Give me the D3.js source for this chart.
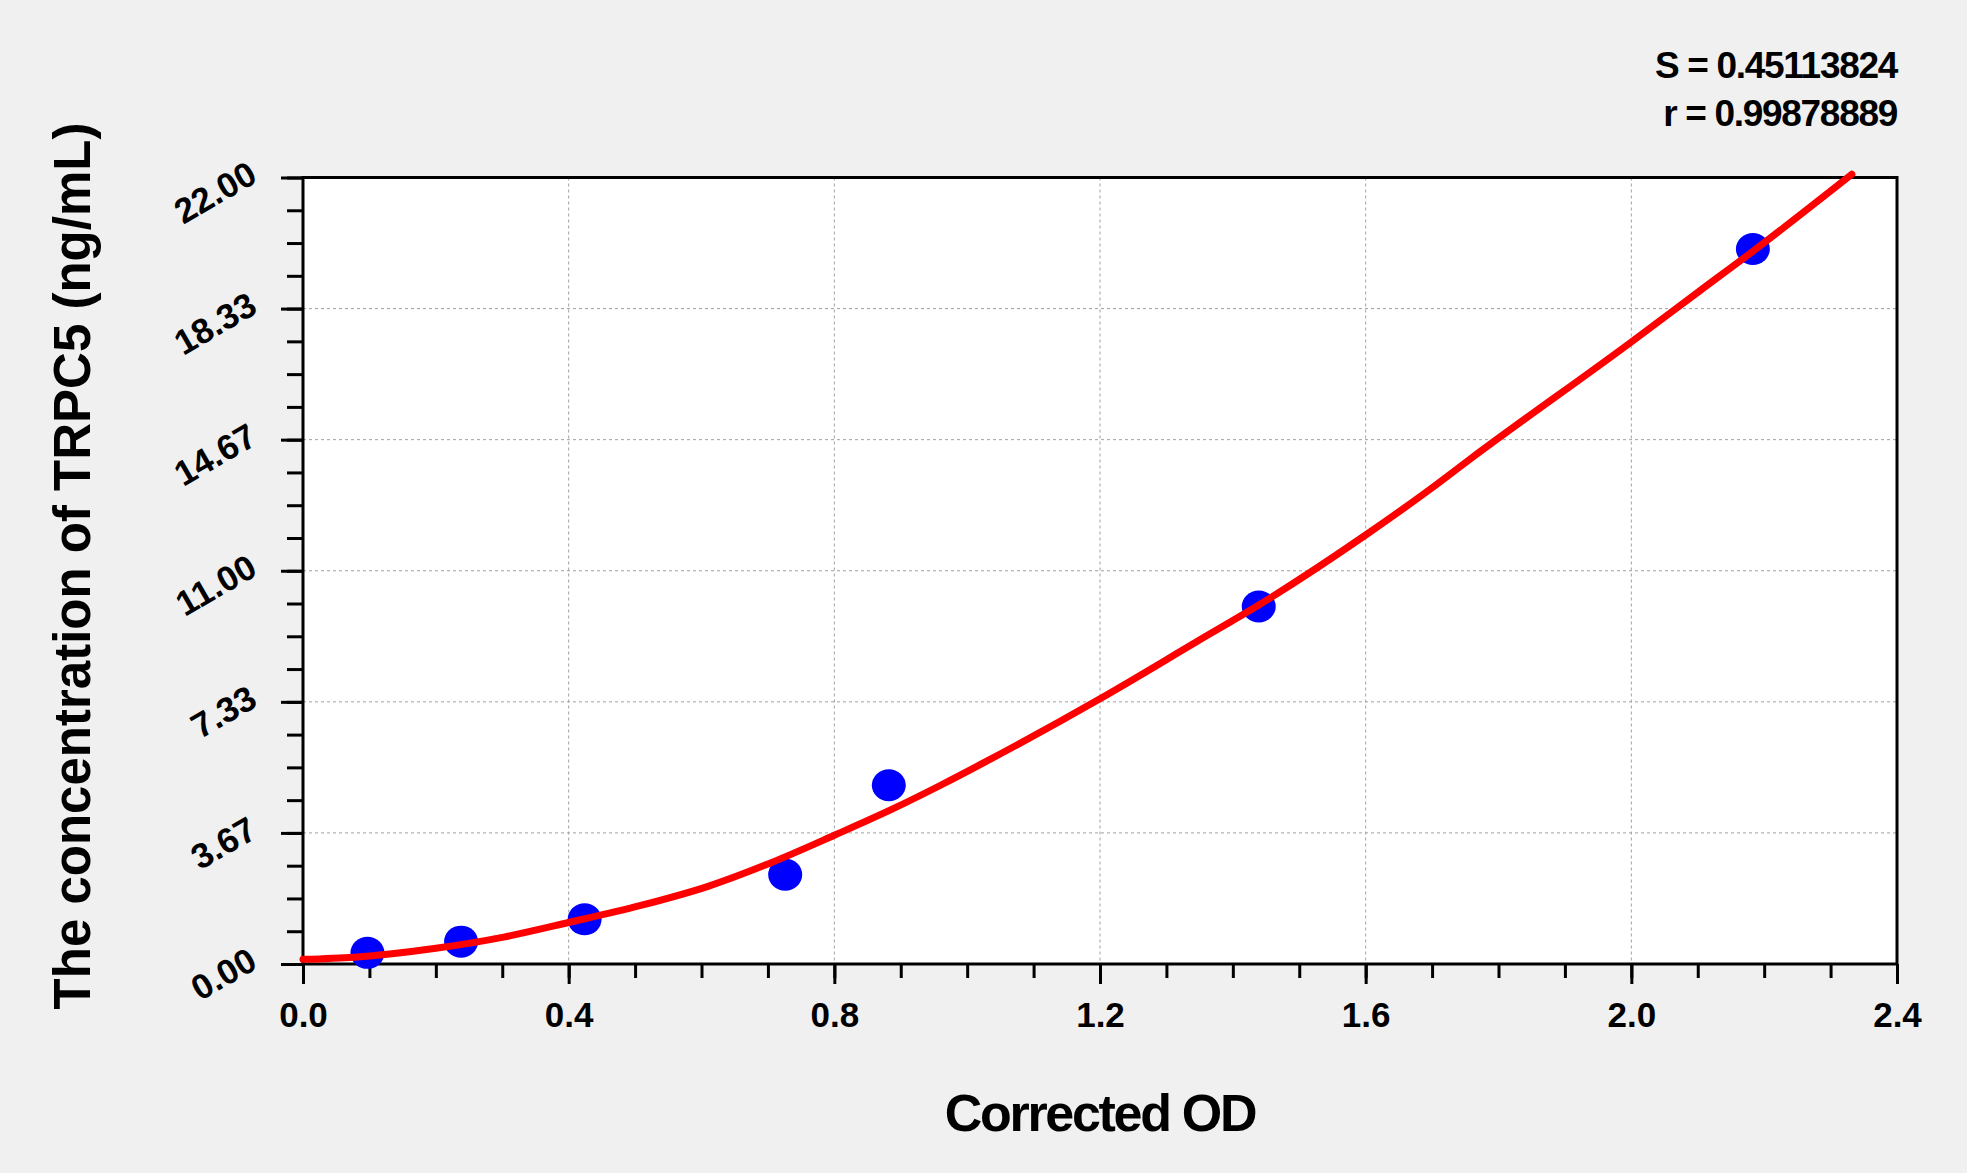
<!DOCTYPE html>
<html>
<head>
<meta charset="utf-8">
<script src="https://cdn.jsdelivr.net/npm/d3@7/dist/d3.min.js"></script>
<style>
  body { margin: 0; background: #f0f0f0; }
  svg { display: block; }
  text { font-family: "Liberation Sans", Arial, sans-serif; font-weight: bold; fill: #000; }
</style>
</head>
<body>
<svg id="chart"></svg>
<script>
// standard points (corrected OD vs concentration)
const odValues = [0.097, 0.238, 0.424, 0.726, 0.882, 1.439, 2.183];
const concValues = [0.312, 0.625, 1.25, 2.5, 5, 10, 20];

// fitted curve
const curveOd = [0, 0.077, 0.2, 0.304, 0.4, 0.507, 0.611, 0.703, 0.8, 0.887, 0.96, 1.028,
  1.2, 1.346, 1.439, 1.6, 1.697, 1.757, 2.0, 2.103, 2.184, 2.332];
const curveConc = [0.13, 0.19, 0.44, 0.76, 1.16, 1.63, 2.18, 2.82, 3.6, 4.33, 5.0, 5.66,
  7.42, 9.02, 10.04, 12.0, 13.28, 14.12, 17.4, 18.83, 19.95, 22.09];

const xTickValues = [0, 0.4, 0.8, 1.2, 1.6, 2.0, 2.4];
const xTickLabels = ['0.0', '0.4', '0.8', '1.2', '1.6', '2.0', '2.4'];
const yTickValues = [0, 3.667, 7.333, 11, 14.667, 18.333, 22];
const yTickLabels = ['0.00', '3.67', '7.33', '11.00', '14.67', '18.33', '22.00'];

const statLines = ['S = 0.45113824', 'r = 0.99878889'];
const xTitle = 'Corrected OD';
const yTitle = 'The concentration of TRPC5 (ng/mL)';

const width = 1967, height = 1173;
const plot = { left: 303, right: 1897, top: 177.5, bottom: 964 };

const svg = d3.select('#chart').attr('width', width).attr('height', height);

const x = d3.scaleLinear().domain([0, 2.4]).range([plot.left, plot.right]);
const y = d3.scaleLinear().domain([0, 22]).range([plot.bottom, plot.top]);

// plot background
svg.append('rect')
  .attr('x', plot.left).attr('y', plot.top)
  .attr('width', plot.right - plot.left).attr('height', plot.bottom - plot.top)
  .attr('fill', '#fff');

// grid lines
const grid = svg.append('g').attr('stroke', '#a0a0a0').attr('stroke-width', 1).attr('stroke-dasharray', '3,3');
grid.selectAll('line.gx')
  .data(xTickValues.slice(1, -1))
  .join('line')
  .attr('class', 'gx')
  .attr('x1', d => x(d)).attr('x2', d => x(d))
  .attr('y1', plot.top).attr('y2', plot.bottom);
grid.selectAll('line.gy')
  .data(yTickValues.slice(1, -1))
  .join('line')
  .attr('class', 'gy')
  .attr('x1', plot.left).attr('x2', plot.right)
  .attr('y1', d => y(d)).attr('y2', d => y(d));

// minor ticks
const xMinor = svg.append('g')
  .attr('transform', `translate(0,${plot.bottom})`)
  .call(d3.axisBottom(x).tickValues(d3.range(0, 25).map(i => i / 10)).tickSize(14).tickFormat(''));
const yMinor = svg.append('g')
  .attr('transform', `translate(${plot.left},0)`)
  .call(d3.axisLeft(y).tickValues(d3.range(0, 25).map(i => i * 22 / 24)).tickSize(16).tickFormat(''));

// major ticks
const xAxis = svg.append('g')
  .attr('transform', `translate(0,${plot.bottom})`)
  .call(d3.axisBottom(x).tickValues(xTickValues).tickSize(20).tickPadding(28)
    .tickFormat((d, i) => xTickLabels[i]));
const yAxis = svg.append('g')
  .attr('transform', `translate(${plot.left},0)`)
  .call(d3.axisLeft(y).tickValues(yTickValues).tickSize(22)
    .tickFormat((d, i) => yTickLabels[i]));

[xMinor, yMinor, xAxis, yAxis].forEach(g => {
  g.select('.domain').remove();
  g.selectAll('line').attr('stroke', '#000').attr('stroke-width', 3);
});

xAxis.selectAll('text')
  .attr('font-size', 35)
  .attr('dy', null)
  .attr('y', 63)
  .attr('fill', '#000');

yAxis.selectAll('text')
  .attr('font-size', 35)
  .attr('fill', '#000')
  .attr('x', null).attr('dy', null)
  .attr('text-anchor', 'end')
  .attr('transform', 'translate(-44,3) rotate(-30)');

// frame
svg.append('rect')
  .attr('x', plot.left).attr('y', plot.top)
  .attr('width', plot.right - plot.left).attr('height', plot.bottom - plot.top)
  .attr('fill', 'none').attr('stroke', '#000').attr('stroke-width', 3);

// points
svg.append('g').selectAll('ellipse')
  .data(odValues)
  .join('ellipse')
  .attr('cx', d => x(d))
  .attr('cy', (d, i) => y(concValues[i]))
  .attr('rx', 17).attr('ry', 16)
  .attr('fill', '#0000ff');

// fitted curve
const line = d3.line()
  .x(d => x(d))
  .y((d, i) => y(curveConc[i]))
  .curve(d3.curveMonotoneX);
svg.append('path')
  .attr('d', line(curveOd))
  .attr('fill', 'none')
  .attr('stroke', '#ff0000')
  .attr('stroke-width', 7)
  .attr('stroke-linecap', 'round')
  .attr('stroke-linejoin', 'round');

// statistics
svg.selectAll('text.stat')
  .data(statLines)
  .join('text')
  .attr('class', 'stat')
  .attr('x', plot.right)
  .attr('y', (d, i) => 78 + i * 48)
  .attr('text-anchor', 'end')
  .attr('font-size', 37)
  .attr('letter-spacing', '-1.3px')
  .text(d => d);

// axis titles
svg.append('text')
  .attr('x', (plot.left + plot.right) / 2)
  .attr('y', 1131)
  .attr('text-anchor', 'middle')
  .attr('font-size', 52)
  .attr('letter-spacing', '-2.3px')
  .text(xTitle);

svg.append('text')
  .attr('transform', 'translate(90,566) rotate(-90)')
  .attr('text-anchor', 'middle')
  .attr('font-size', 51)
  .text(yTitle);
</script>
</body>
</html>
